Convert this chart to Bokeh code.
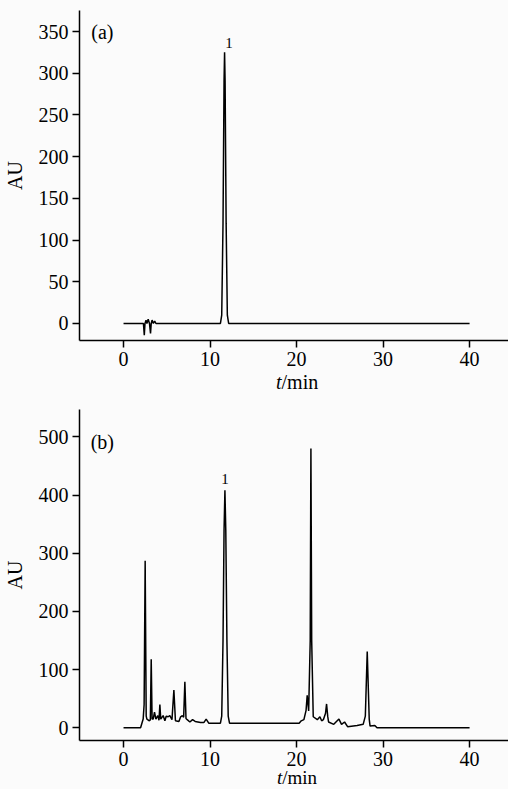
from bokeh.plotting import figure
from bokeh.layouts import column
from bokeh.models import Label, Range1d, FixedTicker, Div
from bokeh.embed import file_html
from bokeh.resources import INLINE

# ---- data ----
# (a) standard chromatogram
a_time = [0.0, 2.3, 2.4, 2.48, 2.6, 2.7, 2.85, 3.0, 3.12, 3.2, 3.3, 3.45, 3.6, 3.75,
          11.2, 11.35, 11.5, 11.62, 11.68, 11.74, 11.86, 12.0, 12.15, 40.0]
a_au = [0, 0, -14, 0, 4, 0, 5, 0, -12, 0, 4, 0, 3, 0,
        0, 10, 120, 290, 325, 290, 120, 10, 0, 0]

# (b) sample chromatogram
b_time = [0.0, 1.97, 2.27, 2.38, 2.5, 2.62, 2.7, 2.99, 3.1, 3.2, 3.3, 3.43, 3.58, 3.74,
          3.96, 4.1, 4.2, 4.3, 4.58, 4.78, 4.93, 5.16, 5.35, 5.6, 5.82, 6.0,
          6.4, 6.6, 6.8, 6.95, 7.09, 7.22, 7.36, 7.67, 7.98, 8.28, 8.9, 9.28, 9.55,
          9.85, 11.2, 11.35, 11.5, 11.62, 11.72, 11.82, 11.95, 12.1, 12.25,
          20.3, 20.54, 20.85, 21.1, 21.23, 21.4, 21.58, 21.66, 21.75, 21.93,
          22.4, 22.7, 22.9, 23.1, 23.35, 23.47, 23.6, 23.7, 24.3, 24.9, 25.2,
          25.55, 25.9, 27.0, 27.7, 27.95, 28.17, 28.4, 28.5, 29.05, 29.3, 40.0]
b_au = [0, 0, 15, 40, 287, 20, 15, 12, 14, 118, 15, 15, 27, 15,
        21, 13, 40, 15, 21, 12, 20, 19, 21, 14, 65, 12,
        11, 19, 21, 18, 79, 16, 14, 10, 14, 11, 9, 9, 15,
        8, 8, 20, 150, 340, 408, 340, 150, 20, 8,
        8, 12, 14, 30, 56, 29, 150, 480, 150, 19,
        14, 19, 12, 14, 25, 41, 20, 10, 6, 15, 6,
        10, 2, 4, 6, 20, 131, 15, 3, 4, 0, 0]

x_ticks = [0, 10, 20, 30, 40]
a_ticks = [0, 50, 100, 150, 200, 250, 300, 350]
b_ticks = [0, 100, 200, 300, 400, 500]

FONT = "Liberation Serif"
BG = "#fbfbfb"


def make(height, top, bottom, yr, yticks, xs, ys, tag, tag_y, peak_x, peak_y):
    p = figure(width=508, height=height, output_backend="svg", toolbar_location=None,
               x_range=Range1d(-5.09, 44.5), y_range=Range1d(*yr),
               min_border_left=79, min_border_right=0, min_border_top=top,
               min_border_bottom=bottom)
    p.background_fill_color = BG
    p.border_fill_color = BG
    p.outline_line_color = None
    p.grid.visible = False
    p.line(xs, ys, line_color="black", line_width=1.5)
    for ax in (p.xaxis[0], p.yaxis[0]):
        ax.axis_line_width = 1.5
        ax.axis_line_color = "black"
        ax.major_tick_line_width = 1.5
        ax.major_tick_line_color = "black"
        ax.major_tick_out = 7
        ax.major_tick_in = 0
        ax.minor_tick_line_color = None
        ax.major_label_standoff = 4
        ax.major_label_text_font = FONT
        ax.major_label_text_font_size = "20px"
        ax.major_label_text_color = "black"
    p.xaxis.ticker = FixedTicker(ticks=x_ticks)
    p.yaxis.ticker = FixedTicker(ticks=yticks)
    p.yaxis.axis_label = "AU"
    p.yaxis.axis_label_text_font = FONT
    p.yaxis.axis_label_text_font_style = "normal"
    p.yaxis.axis_label_text_font_size = "20px"
    p.yaxis.axis_label_text_color = "black"
    p.yaxis.axis_label_standoff = 10
    p.add_layout(Label(x=-2.45, y=tag_y, text=tag, text_font=FONT, text_font_size="20px",
                       text_color="black", text_align="center", text_baseline="middle"))
    p.add_layout(Label(x=peak_x, y=peak_y, text="1", text_font=FONT, text_font_size="15px",
                       text_color="black", text_align="center", text_baseline="middle"))
    return p


def xlabel(height, size, lh, left):
    return Div(text="<i>t</i>/min", width=508 - left, height=height, margin=(0, 0, 0, left),
               styles={"font-family": FONT, "font-size": size, "line-height": lh,
                       "color": "black", "background-color": BG, "white-space": "nowrap",
                       "overflow": "visible"})


p1 = make(374, 10, 34, (-20.4, 375.2), a_ticks, a_time, a_au, "(a)", 349, 12.18, 336)
d1 = xlabel(20, "20px", "16px", 276)
p2 = make(380, 15, 34, (-21.8, 547), b_ticks, b_time, b_au, "(b)", 492, 11.72, 427)
d2 = xlabel(15, "19px", "8px", 277)

layout = column(p1, d1, p2, d2, spacing=0, styles={"background-color": BG})
open("out.html", "w").write(file_html(layout, INLINE))
